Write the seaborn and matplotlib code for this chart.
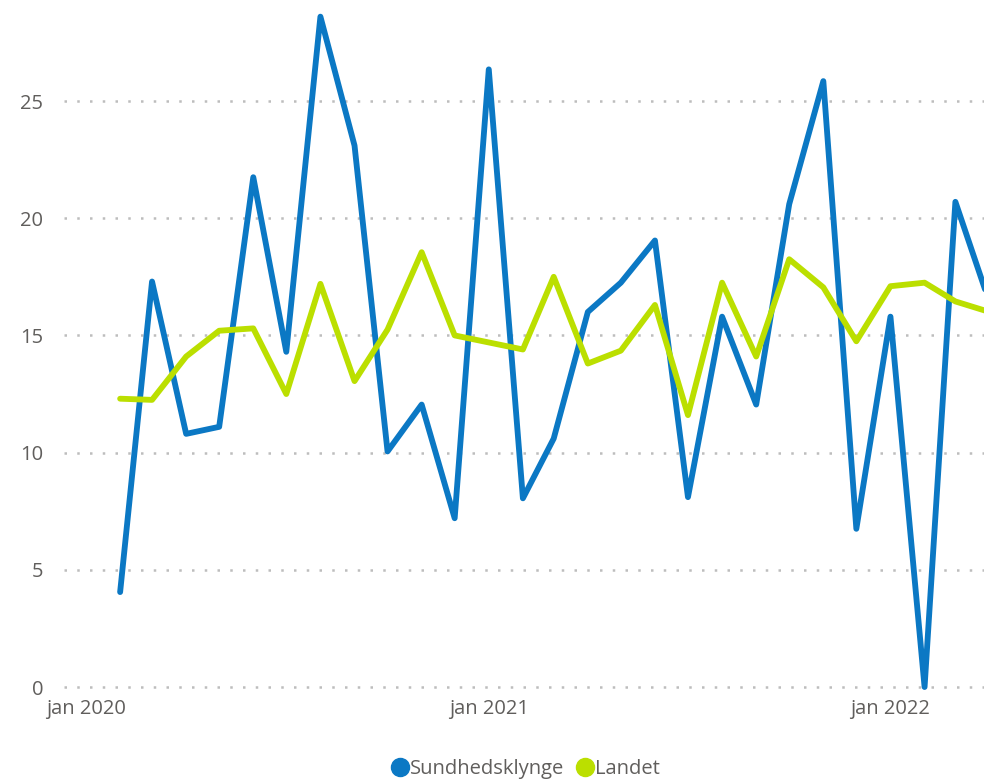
import pandas as pd
import matplotlib
matplotlib.use("Agg")
import matplotlib.pyplot as plt
import matplotlib.dates as mdates
from matplotlib.lines import Line2D
import seaborn as sns

# monthly values, feb 2020 - apr 2022
months = pd.date_range("2020-02-01", periods=27, freq="MS")
sundhedsklynge = [4.05, 17.3, 10.8, 11.1, 21.75, 14.3, 28.6, 23.1, 10.05, 12.05, 7.2, 26.35,
                  8.05, 10.6, 16.0, 17.25, 19.05, 8.1, 15.8, 12.05, 20.6, 25.85, 6.75,
                  15.8, 0.0, 20.7, 16.4]
landet = [12.3, 12.25, 14.1, 15.2, 15.3, 12.5, 17.2, 13.05, 15.25, 18.55, 15.0, 14.7,
          14.4, 17.5, 13.8, 14.35, 16.3, 11.6, 17.25, 14.1, 18.25, 17.05, 14.75,
          17.1, 17.25, 16.45, 16.0]
series_names = ["Sundhedsklynge", "Landet"]
colors = {"Sundhedsklynge": "#0B78C4", "Landet": "#BBDF00"}
y_ticks = [0, 5, 10, 15, 20, 25]

df = pd.DataFrame({
    "month": list(months) * 2,
    "value": sundhedsklynge + landet,
    "serie": [series_names[0]] * len(months) + [series_names[1]] * len(months),
})

sns.set_style("white")
plt.rcParams["font.family"] = ["Open Sans", "DejaVu Sans"]
text_col = "#605E5C"

fig = plt.figure(figsize=(9.84, 7.81), dpi=100)
ax = fig.add_axes([64 / 984, 1 - 691.7 / 781, 1 - 64 / 984, 691.7 / 781])

sns.lineplot(data=df, x="month", y="value", hue="serie", palette=colors,
             linewidth=4.2, legend=False, ax=ax, clip_on=False)

ax.set_xlim(pd.Timestamp("2019-12-12"), pd.Timestamp("2022-03-27"))
ax.set_ylim(-0.2, 29.31)
ax.set_yticks(y_ticks)
ax.grid(axis="y", color="#BDBDBD", linestyle=(0, (1, 4.1)), linewidth=1.8)
ax.grid(axis="x", visible=False)
ax.set_axisbelow(True)

ax.xaxis.set_major_locator(mdates.YearLocator())
ax.xaxis.set_major_formatter(plt.FuncFormatter(
    lambda v, p: "jan " + str(mdates.num2date(v).year)))

for s in ax.spines.values():
    s.set_visible(False)
ax.tick_params(axis="both", length=0, labelsize=14.5, colors=text_col)
ax.tick_params(axis="y", pad=15)
ax.tick_params(axis="x", pad=5)
ax.set_xlabel("")
ax.set_ylabel("")

handles = [Line2D([], [], marker="o", linestyle="none", markersize=13,
                  markerfacecolor=colors[n], markeredgecolor=colors[n]) for n in series_names]
leg = fig.legend(handles, series_names, loc="center", bbox_to_anchor=(524 / 984, 1 - 769 / 781),
                 ncol=2, frameon=False, handletextpad=-0.1, columnspacing=0.4,
                 fontsize=14.5, labelcolor=text_col, handlelength=1.2)

fig.savefig("out.png", dpi=100)
